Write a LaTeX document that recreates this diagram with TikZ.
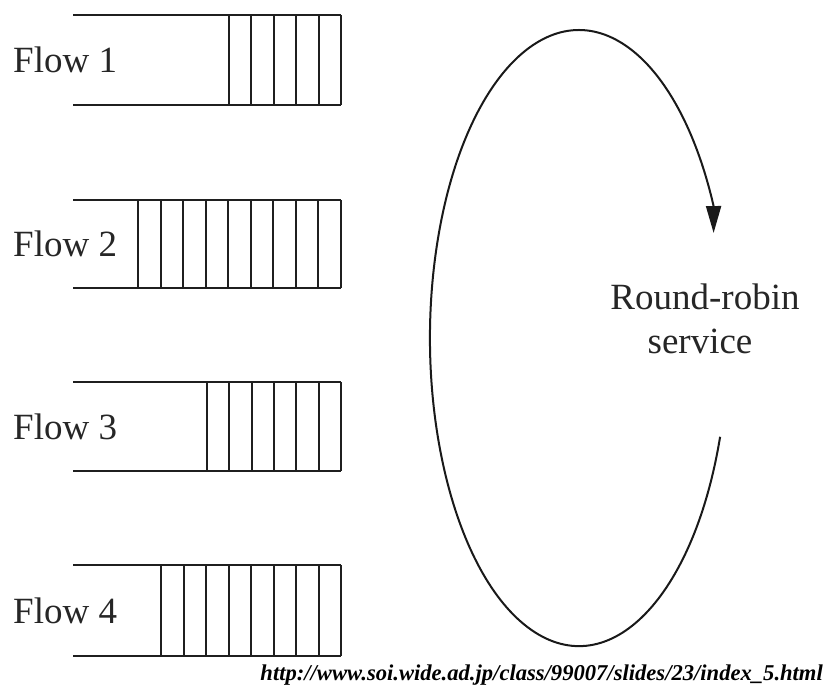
\documentclass[tikz,border=0pt]{standalone}
\usepackage{fontspec}
\setmainfont{Liberation Serif}
\usetikzlibrary{arrows.meta}
\begin{document}
\begin{tikzpicture}[x=1pt,y=-1pt,
  qline/.style={line width=2pt, draw=black!88},
  flowlabel/.style={anchor=west, inner sep=0pt, text=black!85, font=\fontsize{37}{44}\selectfont},
  rrtext/.style={anchor=base, inner sep=0pt, text=black!85, font=\fontsize{37}{44}\selectfont},
  urltext/.style={anchor=base east, inner sep=0pt, text=black, font=\fontsize{22.6}{26}\selectfont\bfseries\itshape},
  rrarc/.style={line width=2pt, draw=black!90, -{Triangle[length=27pt,width=15pt]}}]
\useasboundingbox (0,0) rectangle (827,686);
% queues: top, bottom, first cell x, number of cells
\foreach \T/\B/\S/\N/\i in {15/105/229/5/1, 200/288/138/9/2, 382/471/207/6/3, 565/656/161/8/4}{
  \draw[qline] (73,\T) -- (341,\T);
  \draw[qline] (73,\B) -- (341,\B);
  \foreach \k in {0,...,\N}{
    \draw[qline] ({\S+\k*(341-\S)/\N},\T) -- ({\S+\k*(341-\S)/\N},\B);
  }
  \node[flowlabel] (flow\i) at (13,{(\T+\B)/2}) {Flow \i};
}
% round-robin arc
\coordinate (rrstart) at (720.1,436.8);
\coordinate (rrtip) at (713.6,233);
\draw[rrarc] (rrstart) arc[start angle=-18.7, end angle=-334.6, x radius=149pt, y radius=308pt] -- (rrtip);
\node[rrtext] (rr) at (705,309) {Round-robin};
\node[rrtext] (svc) at (700,353) {service};
\node[urltext] (url) at (823,680) {http://www.soi.wide.ad.jp/class/99007/slides/23/index\_5.html};
\end{tikzpicture}
\end{document}
